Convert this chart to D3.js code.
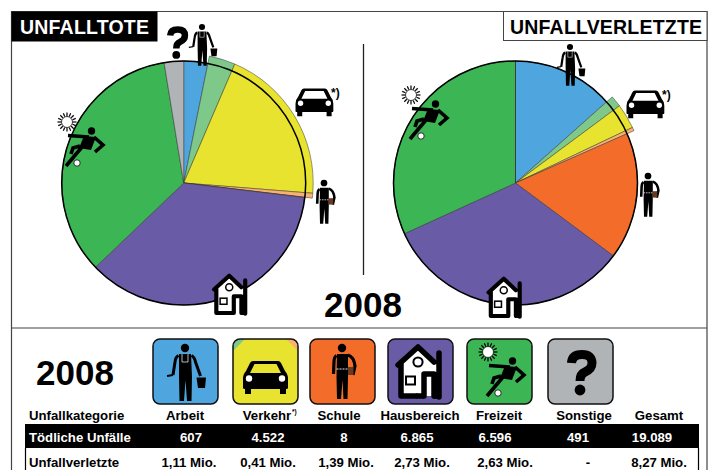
<!DOCTYPE html>
<html>
<head>
<meta charset="utf-8">
<script src="https://d3js.org/d3.v7.min.js"></script>
<style>
    html, body { margin: 0; padding: 0; background: #fff; }
    text { font-family: "Liberation Sans", Arial, sans-serif; font-weight: bold; }
</style>
</head>
<body>
<svg id="chart" width="715" height="470"></svg>
<script>
// pie slices, Verkehr is split in three parts
const sliceNames = ['Arbeit', 'Verkehr Fuss', 'Verkehr Auto', 'Verkehr Rad', 'Schule', 'Hausbereich', 'Freizeit', 'Sonstige'];
const totes = [607, 626, 3780, 116, 8, 6865, 6596, 491];
const verletzte = [1.11, 0.117, 0.257, 0.036, 1.39, 2.73, 2.63, 0];
const sliceColors = ['#4fa6de', '#7ec88a', '#e8e32e', '#f7b26f', '#f36c2a', '#6a5ba6', '#3cb554', '#b1b4b6'];

// table
const year = '2008';
const columns = ['Arbeit', 'Verkehr', 'Schule', 'Hausbereich', 'Freizeit', 'Sonstige', 'Gesamt'];
const rowTote = ['607', '4.522', '8', '6.865', '6.596', '491', '19.089'];
const rowVerletzte = ['1,11 Mio.', '0,41 Mio.', '1,39 Mio.', '2,73 Mio.', '2,63 Mio.', '-', '8,27 Mio.'];

// layout only
const headerX = [185, 267, 339, 420, 499, 584, 659];
const toteX = [191, 268, 344, 417, 495, 578, 652];
const verletzteX = [189, 268, 346, 422, 505, 588, 659];
const tileX = [153, 233, 310, 388, 467, 548];

const svg = d3.select('#chart');

function worker(g) {
    g.append('circle').attr('cx', 32).attr('cy', 9).attr('r', 4.2);
    g.append('path').attr('d', 'M26 15 H38 L39 38 L38.5 62 H34 L32.5 41 L31 62 H26.5 L26 38 Z');
    g.append('path').attr('d', 'M25.5 16.5 Q22.5 18 22 23 L20 36 M38.5 16.5 Q41.5 18 42.5 23 L47.5 37')
        .attr('fill', 'none').attr('stroke', '#000').attr('stroke-width', 3);
    g.append('path').attr('d', 'M29 15 V23 H35 V15').attr('fill', 'none').attr('stroke', '#fff').attr('stroke-width', 0.7);
    g.append('path').attr('d', 'M43.5 38.5 H53 L52 49 H45 Z').attr('fill', '#000');
    g.append('path').attr('d', 'M20 36 L14 37').attr('stroke', '#000').attr('stroke-width', 1.8);
}

function pupil(g) {
    g.append('circle').attr('cx', 32).attr('cy', 9).attr('r', 4.2);
    g.append('path').attr('d', 'M27 15 H38 L38 38 L37.5 60 H33.5 L32.5 41 L31 60 H27 L26.5 38 Z');
    g.append('path').attr('d', 'M26.5 16.5 Q24 18 24 23 L23.5 35 M38 16 Q44 18 45 27 L43 36')
        .attr('fill', 'none').attr('stroke', '#000').attr('stroke-width', 3.2);
    g.append('path').attr('d', 'M26.5 30 H38').attr('stroke', '#fff').attr('stroke-width', 0.9).attr('stroke-dasharray', '2 1');
    g.append('rect').attr('x', 38).attr('y', 28).attr('width', 5.5).attr('height', 8).attr('fill', '#6a3a20');
}

function car(g) {
    g.append('path')
        .attr('fill-rule', 'evenodd')
        .attr('d', 'M20 22 H45 Q47 22 48 24 L52 32 Q55 35 55 40 V49 Q55 50 53 50 V55 H47 V50 H18 V55 H12 V50 Q10 50 10 49 V40 Q10 35 13 32 L17 24 Q18 22 20 22 Z M21.5 25 L17 34 H48 L43.5 25 Z');
    g.append('circle').attr('cx', 16).attr('cy', 39.5).attr('r', 3.2).attr('fill', '#fff');
    g.append('circle').attr('cx', 49).attr('cy', 39.5).attr('r', 3.2).attr('fill', '#fff');
}

function house(g) {
    g.append('path').attr('d', 'M12 25 L30 8 L50 25 V57 H12 Z').attr('fill', '#fff');
    g.append('path')
        .attr('d', 'M10 26 L30 8 L46 23 M13 24 V57 H28 M36 57 V35 H46 V57 M51 14 V58')
        .attr('fill', 'none').attr('stroke', '#000').attr('stroke-width', 5.5).attr('stroke-linejoin', 'round').attr('stroke-linecap', 'round');
    g.append('path').attr('d', 'M28 57 H36 M45 57 H52').attr('stroke', '#000').attr('stroke-width', 5.5);
    g.append('circle').attr('cx', 30).attr('cy', 23).attr('r', 4.6).attr('fill', '#fff').attr('stroke', '#000').attr('stroke-width', 2);
    g.append('rect').attr('x', 18).attr('y', 37.5).attr('width', 9).attr('height', 8).attr('fill', '#fff').attr('stroke', '#000').attr('stroke-width', 2);
}

function player(g) {
    d3.range(16).forEach(i => {
        const a = i * Math.PI / 8;
        g.append('line')
            .attr('x1', 21 + 6 * Math.cos(a)).attr('y1', 13 + 6 * Math.sin(a))
            .attr('x2', 21 + 9.5 * Math.cos(a)).attr('y2', 13 + 9.5 * Math.sin(a))
            .attr('stroke', '#000').attr('stroke-width', 1.2);
    });
    g.append('circle').attr('cx', 21).attr('cy', 13).attr('r', 5.5).attr('fill', '#fff').attr('stroke', '#000').attr('stroke-width', 0.8);
    g.append('circle').attr('cx', 45.5).attr('cy', 22).attr('r', 3.7);
    g.append('path').attr('d', 'M22 26.5 L43 28 M48 28 L57 36 L49 43').attr('fill', 'none').attr('stroke', '#000').attr('stroke-width', 3.6);
    g.append('path').attr('d', 'M38 27 L50 28 L45 41 L33 39 Z');
    g.append('path').attr('d', 'M36 38 L20 57 M34 37 L27 39 L25 45').attr('fill', 'none').attr('stroke', '#000').attr('stroke-width', 3.6);
    g.append('circle').attr('cx', 31).attr('cy', 54).attr('r', 3.2).attr('fill', '#fff').attr('stroke', '#000').attr('stroke-width', 0.8);
}

function question(g) {
    g.append('path')
        .attr('d', 'M23.5 24 Q24 15.5 34 15.5 Q44 15.5 44 24 Q44 30 37 33 Q32 35 32 42')
        .attr('fill', 'none').attr('stroke', '#000').attr('stroke-width', 9);
    g.append('circle').attr('cx', 32).attr('cy', 51).attr('r', 5.4);
}

const tileIcons = [worker, car, pupil, house, player, question];
const tileColors = ['#4fa6de', '#e8e32e', '#f36c2a', '#6a5ba6', '#3cb554', '#b1b4b6'];

function placeIcon(draw, x, y, scale) {
    let g = svg.append('g').attr('transform', 'translate(' + x + ',' + y + ') scale(' + scale + ')');
    draw(g);
}

function drawPie(values, cx, cy) {
    let inner = 122;
    let outer = 129.5;
    let pie = d3.pie().sort(null).value(d => d.value);
    let data = pie(values.map((v, i) => ({ name: sliceNames[i], value: v, color: sliceColors[i] })));
    let isVerkehr = d => d.data.name.startsWith('Verkehr');
    let arc = d3.arc().innerRadius(0).outerRadius(d => isVerkehr(d) ? outer : inner);

    let g = svg.append('g').attr('transform', 'translate(' + cx + ',' + cy + ')');
    g.selectAll('path.slice').data(data).enter().append('path')
        .attr('class', 'slice')
        .attr('d', arc)
        .attr('fill', d => d.data.color)
        .attr('stroke', '#333')
        .attr('stroke-width', 0.5);
    g.append('circle')
        .attr('r', inner)
        .attr('fill', 'none')
        .attr('stroke', '#000')
        .attr('stroke-width', 1.5);
}

// frame
svg.append('path')
    .attr('d', 'M11.5 470 V11.5 H707 V470 M11.5 328 H707')
    .attr('fill', 'none').attr('stroke', '#444').attr('stroke-width', 1.2);
svg.append('line')
    .attr('x1', 363.5).attr('x2', 363.5).attr('y1', 44).attr('y2', 275)
    .attr('stroke', '#222').attr('stroke-width', 1.3);

// title boxes
svg.append('rect').attr('x', 11.5).attr('y', 11.5).attr('width', 146).attr('height', 30).attr('fill', '#000');
svg.append('text').attr('x', 20).attr('y', 34).attr('fill', '#fff').attr('font-size', 19.5).attr('letter-spacing', 0.2).text('UNFALLTOTE');
svg.append('rect').attr('x', 503.5).attr('y', 11.5).attr('width', 203.5).attr('height', 29).attr('fill', '#fff').attr('stroke', '#444').attr('stroke-width', 1);
svg.append('text').attr('x', 510).attr('y', 33.5).attr('fill', '#000').attr('font-size', 19.5).attr('letter-spacing', 0.2).text('UNFALLVERLETZTE');

drawPie(totes, 183.7, 183);
drawPie(verletzte, 515.5, 183);

// icons around the left pie
placeIcon(question, 177 - 33 * 0.72, 42 - 33 * 0.72, 0.72);
placeIcon(worker, 202 - 32 * 0.73, 27 - 9 * 0.73, 0.73);
placeIcon(car, 314 - 32 * 0.84, 102 - 38 * 0.84, 0.84);
placeIcon(pupil, 324 - 32 * 0.8, 183 - 9 * 0.8, 0.8);
placeIcon(house, 230 - 31 * 0.76, 294 - 32 * 0.76, 0.76);
placeIcon(player, 46, 109, 1);

// icons around the right pie
placeIcon(worker, 570 - 32 * 0.73, 47 - 9 * 0.73, 0.73);
placeIcon(car, 645 - 32 * 0.84, 104 - 38 * 0.84, 0.84);
placeIcon(pupil, 648 - 32 * 0.8, 176 - 9 * 0.8, 0.8);
placeIcon(house, 504.5 - 31 * 0.76, 297 - 32 * 0.76, 0.76);
placeIcon(player, 390, 82, 1);

svg.append('text').attr('x', 331).attr('y', 97).attr('font-size', 12).text('*)');
svg.append('text').attr('x', 662).attr('y', 99).attr('font-size', 12).text('*)');

// years
svg.append('text').attr('x', 363).attr('y', 317).attr('text-anchor', 'middle').attr('font-size', 35).text(year);
svg.append('text').attr('x', 75).attr('y', 385).attr('text-anchor', 'middle').attr('font-size', 35).text(year);

// icon tiles above the table
let defs = svg.append('defs');
defs.append('clipPath').attr('id', 'tile-clip').append('rect')
    .attr('width', 65).attr('height', 65).attr('rx', 7);

tileIcons.forEach((icon, i) => {
    let g = svg.append('g').attr('transform', 'translate(' + tileX[i] + ',339)');
    g.append('rect').attr('width', 65).attr('height', 65).attr('rx', 7).attr('fill', tileColors[i]);
    if (icon === car) {
        let c = g.append('g').attr('clip-path', 'url(#tile-clip)');
        c.append('path').attr('d', 'M0 0 H12 L0 12 Z').attr('fill', sliceColors[1]);
        c.append('path').attr('d', 'M65 0 H53 L65 12 Z').attr('fill', sliceColors[3]);
    }
    icon(g);
    g.append('rect').attr('width', 65).attr('height', 65).attr('rx', 7)
        .attr('fill', 'none').attr('stroke', '#111').attr('stroke-width', 1.5);
});

// table
svg.append('text').attr('x', 29).attr('y', 420).attr('font-size', 13.2).text('Unfallkategorie');
svg.selectAll('text.head').data(columns).enter().append('text')
    .attr('class', 'head')
    .attr('x', (d, i) => headerX[i])
    .attr('y', 420)
    .attr('text-anchor', 'middle')
    .attr('font-size', 13.2)
    .text(d => d);
svg.append('text').attr('x', 292).attr('y', 414).attr('font-size', 6.5).text('*)');

svg.append('rect').attr('x', 25).attr('y', 424).attr('width', 674).attr('height', 24).attr('fill', '#000');
svg.append('path').attr('d', 'M25.5 448 V470 M698.5 448 V470').attr('stroke', '#000').attr('stroke-width', 1.2);

svg.append('text').attr('x', 29).attr('y', 442).attr('fill', '#fff').attr('font-size', 13.2).text('Tödliche Unfälle');
svg.selectAll('text.tote').data(rowTote).enter().append('text')
    .attr('class', 'tote')
    .attr('x', (d, i) => toteX[i])
    .attr('y', 442)
    .attr('text-anchor', 'middle')
    .attr('fill', '#fff')
    .attr('font-size', 13.2)
    .text(d => d);

svg.append('text').attr('x', 29).attr('y', 467).attr('font-size', 13.2).text('Unfallverletzte');
svg.selectAll('text.verl').data(rowVerletzte).enter().append('text')
    .attr('class', 'verl')
    .attr('x', (d, i) => verletzteX[i])
    .attr('y', 467)
    .attr('text-anchor', 'middle')
    .attr('font-size', 13.2)
    .text(d => d);
</script>
</body>
</html>
